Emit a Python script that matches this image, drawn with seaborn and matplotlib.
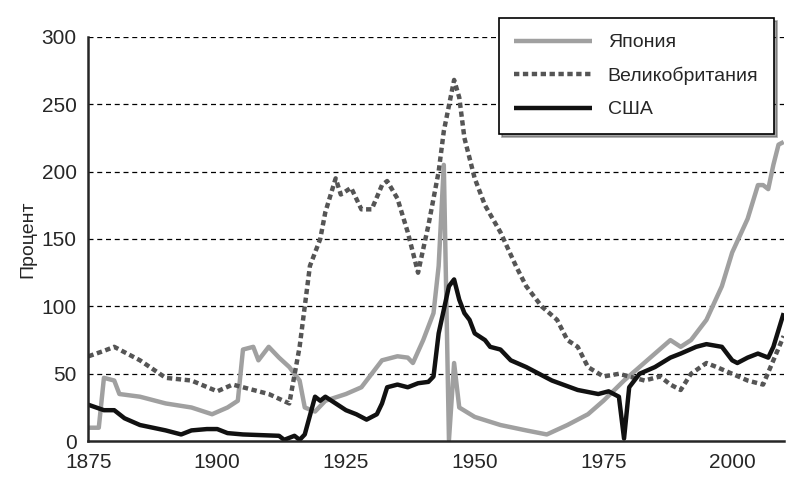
import matplotlib
matplotlib.use("Agg")
import matplotlib.pyplot as plt
import seaborn as sns
import pandas as pd

jp_years = [1875,1877,1878,1880,1881,1885,1890,1895,1899,1902,1904,1905,1907,1908,1910,1912,1914,1916,1917,1919,1921,1925,1928,1930,1932,1935,1937,1938,1940,1942,1943,1944,1945,1946,1947,1950,1955,1960,1964,1968,1972,1975,1979,1982,1985,1988,1990,1992,1995,1998,2000,2003,2005,2006,2007,2008,2009,2010]
jp_vals = [10,10,47,45,35,33,28,25,20,25,30,68,70,60,70,62,55,45,25,22,30,35,40,50,60,63,62,58,75,95,130,205,1,58,25,18,12,8,5,12,20,30,45,55,65,75,70,75,90,115,140,165,190,190,187,205,220,222]

uk_years = [1875,1878,1880,1885,1890,1895,1900,1903,1905,1910,1914,1916,1917,1918,1920,1921,1923,1924,1926,1928,1930,1932,1933,1935,1937,1939,1941,1943,1944,1946,1947,1948,1950,1952,1955,1958,1960,1963,1966,1968,1970,1972,1975,1978,1980,1983,1986,1988,1990,1992,1995,1997,2000,2003,2006,2008,2010]
uk_vals = [63,67,70,60,47,45,37,42,40,35,28,70,100,130,150,170,195,183,188,172,172,190,193,180,155,125,160,200,230,268,255,225,195,175,155,130,115,100,90,75,70,55,48,50,48,45,48,42,38,50,58,55,50,45,42,60,78]

us_years = [1875,1878,1880,1882,1885,1890,1893,1895,1898,1900,1902,1905,1912,1913,1915,1916,1917,1919,1920,1921,1923,1925,1927,1929,1931,1932,1933,1935,1937,1939,1941,1942,1943,1945,1946,1947,1948,1949,1950,1952,1953,1955,1957,1960,1965,1970,1974,1976,1978,1979,1980,1982,1985,1988,1990,1993,1995,1998,2000,2001,2003,2005,2007,2008,2010]
us_vals = [27,23,23,17,12,8,5,8,9,9,6,5,4,1,4,1,5,33,30,33,28,23,20,16,20,28,40,42,40,43,44,48,80,115,120,105,95,90,80,75,70,68,60,55,45,38,35,37,33,2,40,50,55,62,65,70,72,70,60,58,62,65,62,70,95]

names = ["Япония", "Великобритания", "США"]

df = pd.concat([
    pd.DataFrame({"year": jp_years, "v": jp_vals, "s": names[0]}),
    pd.DataFrame({"year": uk_years, "v": uk_vals, "s": names[1]}),
    pd.DataFrame({"year": us_years, "v": us_vals, "s": names[2]}),
])

sns.set_style("white")
plt.rcParams['font.family'] = ['Liberation Sans', 'DejaVu Sans']
fig, ax = plt.subplots(figsize=(7.9, 4.78), dpi=100)
fig.subplots_adjust(left=0.112, right=0.992, bottom=0.077, top=0.923)

for y in [50,100,150,200,250,300]:
    ax.axhline(y, color="black", lw=0.9, ls=(0,(4,3)), zorder=0)

sns.lineplot(data=df, x="year", y="v", hue="s", style="s",
             palette={names[0]: "#a0a0a0", names[1]: "#555555", names[2]: "#111111"},
             dashes={names[0]: "", names[1]: (1.2, 0.8), names[2]: ""},
             linewidth=3.2, ax=ax, estimator=None)
for l in ax.lines:
    l.set_solid_capstyle("butt")

ax.set_xlim(1875, 2010)
ax.set_ylim(0, 300)
ax.set_xticks([1875,1900,1925,1950,1975,2000])
ax.set_yticks([0,50,100,150,200,250,300])
ax.tick_params(axis="both", labelsize=15, direction="inout", length=10, width=1.5)
ax.set_xlabel("")
ax.set_ylabel("Процент", fontsize=14)
sns.despine(ax=ax)
for s in ["left", "bottom"]:
    ax.spines[s].set_linewidth(1.8)

h, lab = ax.get_legend_handles_labels()
leg = ax.legend(h, lab, loc="upper right", bbox_to_anchor=(1.0, 1.07), fontsize=14,
                frameon=True, fancybox=False, shadow=True, handlelength=4,
                edgecolor="black", borderpad=0.8, labelspacing=0.8)
leg.get_frame().set_linewidth(1.2)
leg.set_zorder(5)
fig.savefig("out.png", dpi=100)
